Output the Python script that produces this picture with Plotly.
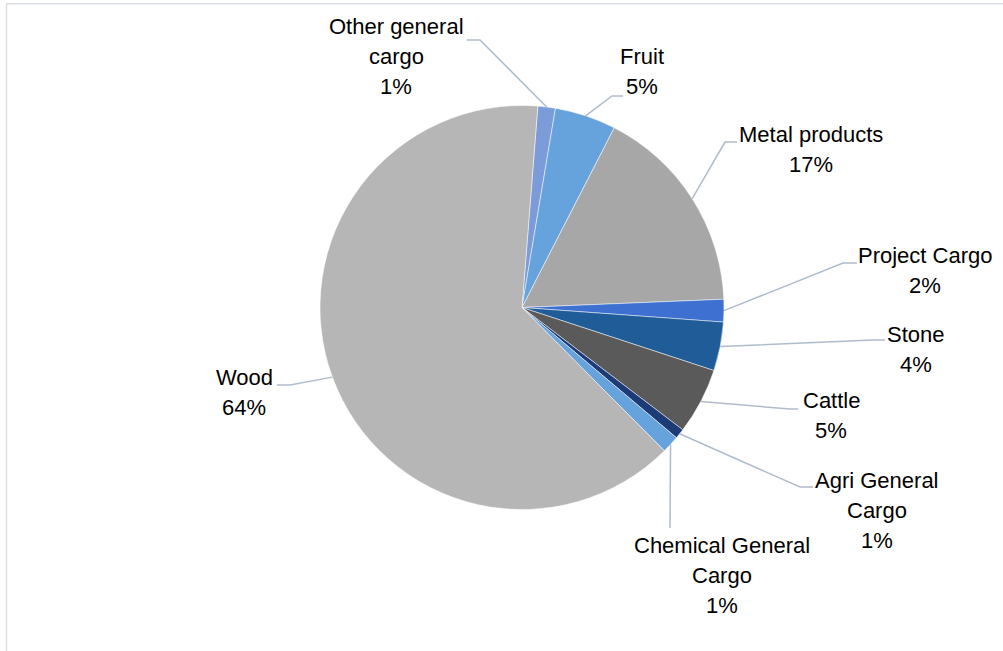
import math
import plotly.graph_objects as go

# ---------------- data ----------------
categories = ["Other general cargo", "Fruit", "Metal products", "Project Cargo", "Stone",
              "Cattle", "Agri General Cargo", "Chemical General Cargo", "Wood"]
shares = [1.4, 4.9, 16.8, 1.8, 3.9, 5.3, 0.8, 1.4, 63.7]
label_lines = [["Other general", "cargo"], ["Fruit"], ["Metal products"], ["Project Cargo"],
               ["Stone"], ["Cattle"], ["Agri General", "Cargo"], ["Chemical General", "Cargo"], ["Wood"]]
colors = ["#7b9bd9", "#66a3dd", "#a7a7a7", "#3d70d0", "#1f5c98",
          "#5a5a5a", "#1d3b77", "#66a2dc", "#b6b6b6"]

# ---------------- layout (pixels) ----------------
W, H = 1003, 651
CX, CY, R = 522, 307.5, 202
ROT = 4.5
FS = 22
LINE_H = 30

label_cx = [396, 642, 811, 925, 916, 831, 877, 722, 244]
label_base = [34, 64, 142, 263, 342, 408, 488, 553, 385]
leader_knee = [(480, 40), (612, 96), (725, 142), (843, 263), (873, 340), (790, 409), (800, 487), None, (290, 385)]
leader_end = [(467, 40), (623, 96), (737, 142), (857, 263), (885, 340), (798, 409), (813, 487), (670, 528), (277, 385)]


def px(x):
    return x / W


def py(y):
    return 1 - y / H


fig = go.Figure()
fig.add_trace(go.Pie(
    labels=categories, values=shares, sort=False, direction="clockwise", rotation=ROT,
    textinfo="none", hoverinfo="label+percent",
    marker=dict(colors=colors, line=dict(color="rgba(255,255,255,0.7)", width=0.7)),
    domain=dict(x=[px(CX - R), px(CX + R)], y=[py(CY + R), py(CY - R)]),
    showlegend=False,
))

annotations = []
shapes = []
total = sum(shares)
cum = 0.0
for i, v in enumerate(shares):
    mid = math.radians(ROT + 360.0 * (cum + v / 2) / total)
    cum += v
    sx, sy = CX + R * math.sin(mid), CY - R * math.cos(mid)
    pts = [(sx, sy)]
    if leader_knee[i] is not None:
        pts.append(leader_knee[i])
    pts.append(leader_end[i])
    path = "M " + " L ".join(f"{px(x):.5f},{py(y):.5f}" for x, y in pts)
    shapes.append(dict(type="path", xref="paper", yref="paper", path=path,
                       line=dict(color="#b0bccc", width=1.5)))
    lines = label_lines[i] + [f"{round(v)}%"]
    for j, t in enumerate(lines):
        yb = label_base[i] + LINE_H * j
        annotations.append(dict(
            text=t, x=px(label_cx[i]), y=py(yb - 7.6), xref="paper", yref="paper",
            xanchor="center", yanchor="middle", showarrow=False,
            font=dict(family="Liberation Sans, Arial, sans-serif", size=FS, color="#000000"),
        ))

# chart frame (top and left edges visible)
shapes.append(dict(type="line", xref="paper", yref="paper", x0=px(6.5), x1=1.0, y0=py(3.7), y1=py(3.7),
                   line=dict(color="#d9dee6", width=1.5)))
shapes.append(dict(type="line", xref="paper", yref="paper", x0=px(6.5), x1=px(6.5), y0=py(3.7), y1=0,
                   line=dict(color="#d9dee6", width=1.5)))

fig.update_layout(
    width=W, height=H, margin=dict(l=0, r=0, t=0, b=0),
    paper_bgcolor="white", plot_bgcolor="white",
    annotations=annotations, shapes=shapes,
)

fig.write_html("out.html")
